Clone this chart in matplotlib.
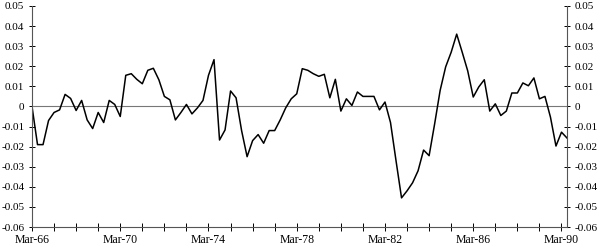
import numpy as np
import matplotlib
matplotlib.use("Agg")
import matplotlib.pyplot as plt

# quarterly series, Mar-66 .. Jun-90
values = [
    0.000, -0.019, -0.019, -0.007, -0.003, -0.0017, 0.006, 0.004,
    -0.002, 0.003, -0.0067, -0.011, -0.003, -0.008, 0.003, 0.001,
    -0.005, 0.0155, 0.0163, 0.0135, 0.0113, 0.018, 0.019, 0.0133,
    0.005, 0.0033, -0.0067, -0.003, 0.001, -0.0037, -0.0007, 0.003,
    0.0155, 0.0233, -0.0167, -0.0117, 0.0077, 0.0043, -0.012, -0.025,
    -0.017, -0.014, -0.0183, -0.012, -0.012, -0.0067, -0.0007, 0.0038,
    0.0063, 0.0188, 0.018, 0.0163, 0.015, 0.016, 0.0043, 0.0135,
    -0.0023, 0.0038, 0.0005, 0.0072, 0.005, 0.005, 0.005, -0.0017,
    0.0022, -0.008, -0.027, -0.0455, -0.042, -0.038, -0.032, -0.0217,
    -0.0245, -0.0087, 0.008, 0.0197, 0.027, 0.036, 0.027, 0.0177,
    0.0047, 0.0097, 0.0133, -0.0023, 0.0013, -0.0045, -0.0023, 0.0067,
    0.0067, 0.0117, 0.0103, 0.0142, 0.0038, 0.005, -0.0053, -0.0197,
    -0.0128, -0.0157,
]
start_year = 1966
label_years = [1966, 1970, 1974, 1978, 1982, 1986, 1990]
y_ticks = [0.05, 0.04, 0.03, 0.02, 0.01, 0, -0.01, -0.02, -0.03, -0.04, -0.05, -0.06]
y_labels = ["0.05", "0.04", "0.03", "0.02", "0.01", "0", "-0.01", "-0.02",
            "-0.03", "-0.04", "-0.05", "-0.06"]

x = start_year + np.arange(len(values)) / 4.0

plt.rcParams["font.family"] = ["Liberation Serif", "DejaVu Serif"]

fig = plt.figure(figsize=(6.0, 2.49), dpi=100)
ax = fig.add_axes([32 / 600, 1 - 227 / 249, 535 / 600, 221 / 249])

ax.axhline(0, color="#777777", lw=0.8)
ax.plot(x, values, color="black", lw=1.1)

ax.set_xlim(x[0], x[-1])
ax.set_ylim(-0.06, 0.05)

ax.set_xticks(np.arange(start_year, 1991))
ax.set_xticklabels(["Mar-%02d" % (y % 100) if y in label_years else ""
                    for y in range(start_year, 1991)])
ax.set_yticks(y_ticks)
ax.set_yticklabels(y_labels)

ax.spines["top"].set_visible(False)
for s in ["left", "right", "bottom"]:
    ax.spines[s].set_color("#555555")
    ax.spines[s].set_linewidth(0.8)

ax.tick_params(axis="y", which="both", direction="inout", length=5, width=0.7,
               labelsize=8, left=True, right=True, labelleft=True, labelright=True,
               pad=3)
ax.tick_params(axis="x", direction="inout", length=6, width=0.7, labelsize=8.5, pad=2)

fig.savefig("out.png", dpi=100)
